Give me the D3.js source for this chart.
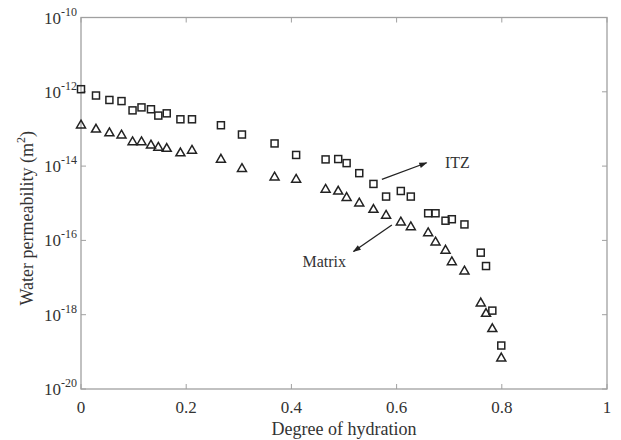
<!DOCTYPE html>
<html>
<head>
<meta charset="utf-8">
<script src="https://cdn.jsdelivr.net/npm/d3@7"></script>
<style>
  body { margin: 0; background: #fff; }
  svg text { font-family: "Liberation Serif", "Times New Roman", serif; fill: #333; }
</style>
</head>
<body>
<div id="chart"></div>
<script>
// degree of hydration (shared by both series)
var hydration = [0, 0.0285, 0.054, 0.077, 0.098, 0.115, 0.133, 0.147, 0.163, 0.189, 0.211,
  0.266, 0.306, 0.368, 0.409, 0.465, 0.489, 0.505, 0.529, 0.556, 0.580, 0.608, 0.627,
  0.660, 0.674, 0.693, 0.705, 0.729, 0.760, 0.770, 0.782, 0.799];

// log10 of water permeability (m2)
var itzLog = [-11.93, -12.10, -12.22, -12.25, -12.50, -12.42, -12.47, -12.64, -12.58, -12.74, -12.74,
  -12.90, -13.15, -13.39, -13.70, -13.82, -13.81, -13.92, -14.19, -14.48, -14.82, -14.67, -14.82,
  -15.27, -15.27, -15.47, -15.43, -15.57, -16.33, -16.69, -17.89, -18.83];
var matrixLog = [-12.89, -13.00, -13.10, -13.16, -13.34, -13.34, -13.43, -13.49, -13.52, -13.64, -13.57,
  -13.81, -14.06, -14.29, -14.35, -14.62, -14.67, -14.84, -14.99, -15.16, -15.32, -15.50, -15.63,
  -15.79, -16.04, -16.26, -16.57, -16.82, -17.68, -17.96, -18.37, -19.16];

var xTicks = [0, 0.2, 0.4, 0.6, 0.8, 1];
var yExponents = [-10, -12, -14, -16, -18, -20];

var margin = {top: 17.5, right: 14, bottom: 51, left: 81},
    width = 621 - margin.left - margin.right,
    height = 440 - margin.top - margin.bottom;

var svg = d3.select("#chart")
  .append("svg")
    .attr("width", 621)
    .attr("height", 440)
  .append("g")
    .attr("transform", "translate(" + margin.left + "," + margin.top + ")");

var x = d3.scaleLinear().domain([0, 1]).range([0, width]);
var y = d3.scaleLog().domain([1e-20, 1e-10]).range([height, 0]);

var axisColor = "#a0a0a0";

// frame
svg.append("rect")
  .attr("width", width)
  .attr("height", height)
  .attr("fill", "none")
  .attr("stroke", axisColor)
  .attr("stroke-width", 1.3);

// ticks (inward) on all four sides
xTicks.forEach(function(t) {
  svg.append("line").attr("x1", x(t)).attr("x2", x(t)).attr("y1", height).attr("y2", height - 5)
    .attr("stroke", axisColor);
  svg.append("line").attr("x1", x(t)).attr("x2", x(t)).attr("y1", 0).attr("y2", 5)
    .attr("stroke", axisColor);
  svg.append("text")
    .attr("x", x(t))
    .attr("y", height + 24)
    .attr("text-anchor", "middle")
    .style("font-size", "17px")
    .text(t);
});

yExponents.forEach(function(e) {
  var v = Math.pow(10, e);
  svg.append("line").attr("x1", 0).attr("x2", 5).attr("y1", y(v)).attr("y2", y(v))
    .attr("stroke", axisColor);
  svg.append("line").attr("x1", width).attr("x2", width - 5).attr("y1", y(v)).attr("y2", y(v))
    .attr("stroke", axisColor);
  var lab = svg.append("text")
    .attr("x", -4)
    .attr("y", y(v) + 6)
    .attr("text-anchor", "end")
    .style("font-size", "17px");
  lab.append("tspan").text("10");
  lab.append("tspan").attr("dy", -8).style("font-size", "12px").text(e);
});

// axis titles
svg.append("text")
  .attr("x", width / 2)
  .attr("y", height + 46)
  .attr("text-anchor", "middle")
  .style("font-size", "18px")
  .text("Degree of hydration");

var yt = svg.append("text")
  .attr("transform", "translate(" + (-48) + "," + (height / 2 + 15) + ") rotate(-90)")
  .attr("text-anchor", "middle")
  .style("font-size", "18px");
yt.append("tspan").text("Water permeability (m");
yt.append("tspan").attr("dy", -8).style("font-size", "12px").text("2");
yt.append("tspan").attr("dy", 8).text(")");

// data
var itz = hydration.map(function(h, i) { return {x: h, y: Math.pow(10, itzLog[i])}; });
var matrix = hydration.map(function(h, i) { return {x: h, y: Math.pow(10, matrixLog[i])}; });

svg.selectAll(".itz")
  .data(itz)
  .enter()
  .append("rect")
    .attr("class", "itz")
    .attr("x", function(d) { return x(d.x) - 3.5; })
    .attr("y", function(d) { return y(d.y) - 3.5; })
    .attr("width", 7)
    .attr("height", 7)
    .attr("fill", "none")
    .attr("stroke", "#222")
    .attr("stroke-width", 1.5);

var tri = d3.symbol().type(d3.symbolTriangle).size(35);
svg.selectAll(".matrix")
  .data(matrix)
  .enter()
  .append("path")
    .attr("class", "matrix")
    .attr("d", tri)
    .attr("transform", function(d) { return "translate(" + x(d.x) + "," + (y(d.y) + 0.5) + ")"; })
    .attr("fill", "none")
    .attr("stroke", "#222")
    .attr("stroke-width", 1.5);

// annotations
var defs = svg.append("defs");
defs.append("marker")
  .attr("id", "arrow")
  .attr("viewBox", "0 0 10 10")
  .attr("refX", 9).attr("refY", 5)
  .attr("markerWidth", 9).attr("markerHeight", 8)
  .attr("markerUnits", "userSpaceOnUse")
  .attr("orient", "auto")
  .append("path")
    .attr("d", "M0,1.5 L10,5 L0,8.5 Z")
    .attr("fill", "#222");

// arrow endpoints in data space
var itzArrow = [[0.572, 4.4e-15], [0.657, 1.23e-14]];
var matrixArrow = [[0.591, 2.6e-16], [0.518, 5.0e-17]];

[itzArrow, matrixArrow].forEach(function(a) {
  svg.append("line")
    .attr("x1", x(a[0][0])).attr("y1", y(a[0][1]))
    .attr("x2", x(a[1][0])).attr("y2", y(a[1][1]))
    .attr("stroke", "#222")
    .attr("stroke-width", 1.3)
    .attr("marker-end", "url(#arrow)");
});

svg.append("text")
  .attr("x", x(0.692))
  .attr("y", y(1.2e-14) + 5)
  .style("font-size", "16px")
  .text("ITZ");

svg.append("text")
  .attr("x", x(0.421))
  .attr("y", y(2.5e-17) + 4)
  .style("font-size", "16px")
  .text("Matrix");
</script>
</body>
</html>
